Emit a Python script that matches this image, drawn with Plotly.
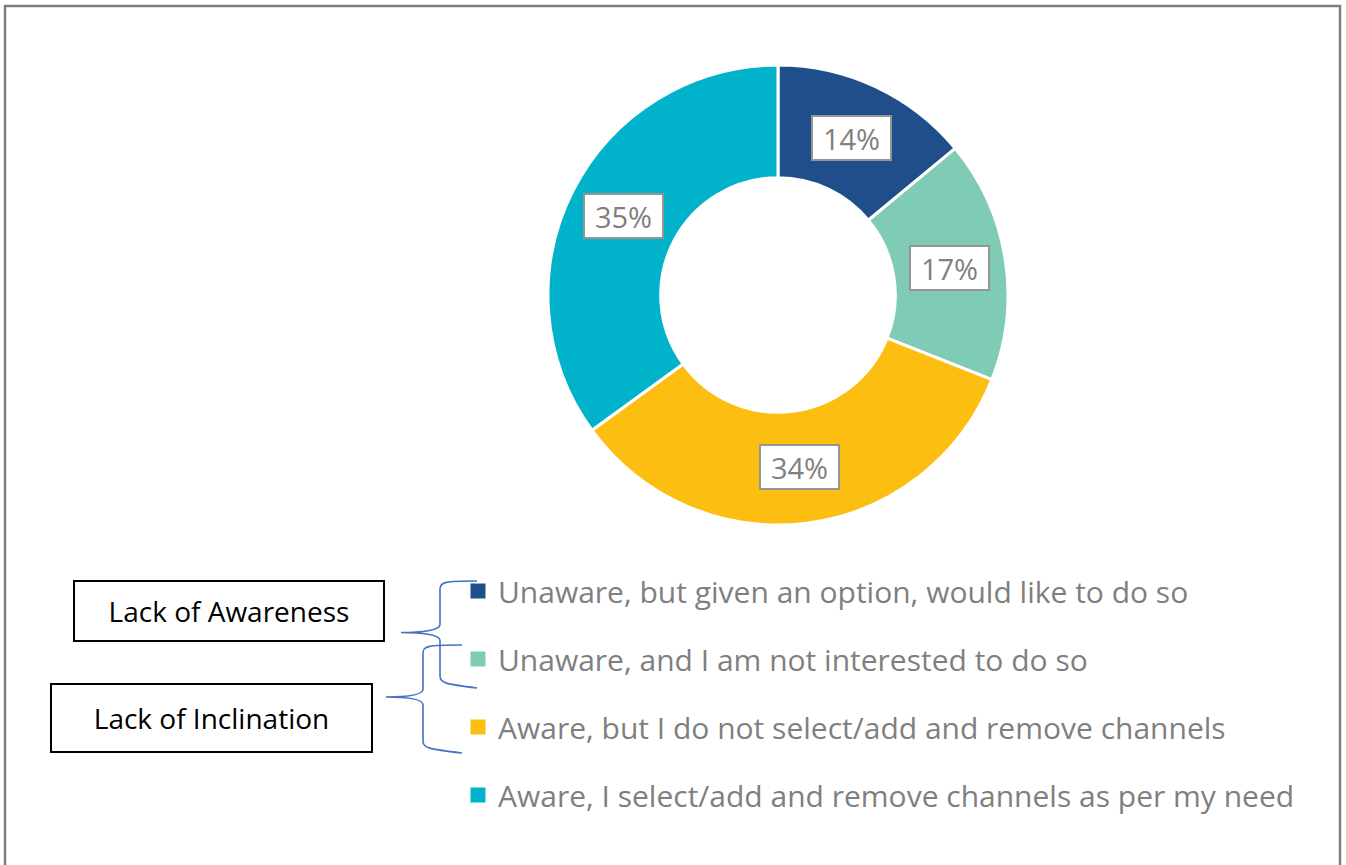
import math
import plotly.graph_objects as go

# Survey responses
labels = [
    "Unaware, but given an option, would like to do so",
    "Unaware, and I am not interested to do so",
    "Aware, but I do not select/add and remove channels",
    "Aware, I select/add and remove channels as per my need",
]
shares = [14, 17, 34, 35]
colors = ["#1F4E8A", "#80CBB5", "#FDBE12", "#00B2CA"]

group_names = ["Lack of Awareness", "Lack of Inclination"]

FONT = "Open Sans"
W, H = 1346, 865
# donut placement in pixels
cx, cy, r_out = 778, 295, 230
hole = 0.51

fig = go.Figure()

fig.add_trace(go.Pie(
    values=shares,
    labels=labels,
    sort=False,
    direction="clockwise",
    rotation=0,
    hole=hole,
    marker=dict(colors=colors, line=dict(color="white", width=3)),
    textinfo="none",
    hoverinfo="label+percent",
    showlegend=False,
    domain=dict(x=[(cx - r_out) / W, (cx + r_out) / W],
                y=[1 - (cy + r_out) / H, 1 - (cy - r_out) / H]),
))

# legend entries (one group each so tracegroupgap spaces them)
for i, (lab, col) in enumerate(zip(labels, colors)):
    fig.add_trace(go.Scatter(
        x=[None], y=[None], mode="markers", name=lab,
        legendgroup=f"g{i}",
        marker=dict(symbol="square", size=15, color=col),
    ))

# percentage labels in boxes, placed at the middle of each ring segment
total = sum(shares)
r_mid = r_out * (1 + hole) / 2
cum = 0
for v in shares:
    mid = (cum + v / 2) / total * 2 * math.pi
    cum += v
    fig.add_annotation(
        x=cx + r_mid * math.sin(mid), y=cy - r_mid * math.cos(mid),
        xref="x", yref="y", text=f"{round(v / total * 100)}%",
        showarrow=False, font=dict(family=FONT, size=29, color="#7F7F7F"),
        bgcolor="white", bordercolor="#959595", borderwidth=2,
        borderpad=1, width=75, height=40,
    )

# group boxes
fig.add_annotation(x=229, y=611, xref="x", yref="y", text=group_names[0],
                   showarrow=False, font=dict(family=FONT, size=28, color="black"),
                   bgcolor="white", bordercolor="black", borderwidth=2,
                   width=306, height=56, borderpad=1)
fig.add_annotation(x=211, y=718, xref="x", yref="y", text=group_names[1],
                   showarrow=False, font=dict(family=FONT, size=28, color="black"),
                   bgcolor="white", bordercolor="black", borderwidth=2,
                   width=317, height=64, borderpad=1)


def brace(x_arm, x_spine, x_tip, y_top, y_bot):
    y_mid = (y_top + y_bot) / 2
    c = 8
    return (
        f"M {x_arm},{y_top} C {x_spine + 5},{y_top} {x_spine},{y_top + 1} {x_spine},{y_top + c} "
        f"L {x_spine},{y_mid - c} C {x_spine},{y_mid - 2} {x_tip + 20},{y_mid} {x_tip},{y_mid} "
        f"C {x_tip + 20},{y_mid} {x_spine},{y_mid + 2} {x_spine},{y_mid + c} "
        f"L {x_spine},{y_bot - c} C {x_spine},{y_bot - 1} {x_spine + 5},{y_bot} {x_arm},{y_bot + 4}"
    )


shapes = [
    dict(type="rect", xref="x", yref="y", x0=5, y0=6, x1=1340, y1=900,
         line=dict(color="#7F7F7F", width=2.5), layer="below"),
    dict(type="path", xref="x", yref="y", path=brace(477, 440, 401, 581, 684),
         line=dict(color="#4472C4", width=1.6)),
    dict(type="path", xref="x", yref="y", path=brace(462, 423, 386, 645, 749),
         line=dict(color="#4472C4", width=1.6)),
]

fig.update_layout(
    width=W, height=H,
    margin=dict(l=0, r=0, t=0, b=0),
    paper_bgcolor="white", plot_bgcolor="rgba(0,0,0,0)",
    xaxis=dict(range=[0, W], visible=False, domain=[0, 1], fixedrange=True),
    yaxis=dict(range=[H, 0], visible=False, domain=[0, 1], fixedrange=True),
    shapes=shapes,
    showlegend=True,
    legend=dict(
        x=458 / W, y=1 - 565 / H, xanchor="left", yanchor="top",
        font=dict(family=FONT, size=30, color="#7F7F7F"),
        tracegroupgap=26, bgcolor="rgba(0,0,0,0)",
        itemclick=False, itemdoubleclick=False,
    ),
)

fig.write_html("out.html")
